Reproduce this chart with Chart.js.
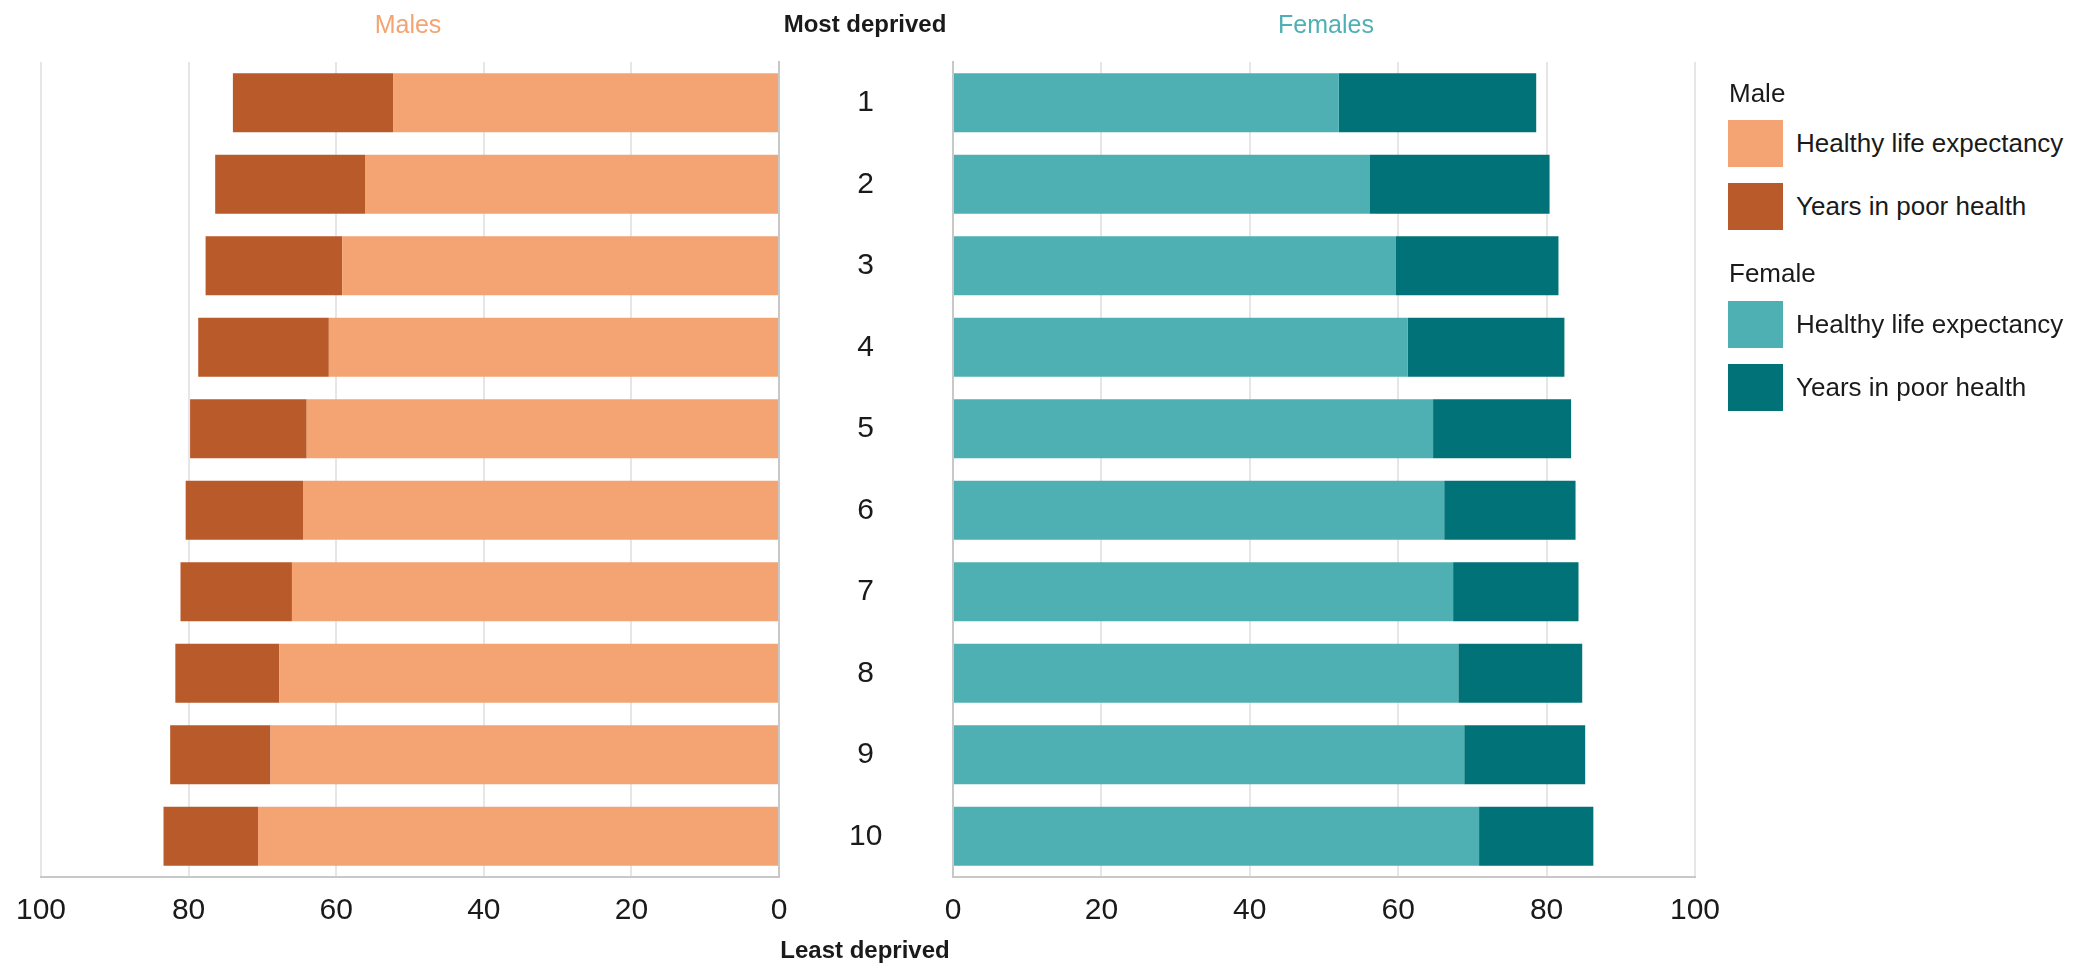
<!DOCTYPE html>
<html>
<head>
<meta charset="utf-8">
<script src="https://cdn.jsdelivr.net/npm/chart.js@4/dist/chart.umd.min.js"></script>
<style>
  body { margin: 0; background: #fff; font-family: 'Liberation Sans', Arial, sans-serif; color: #1a1a1a; }
  #wrap { position: relative; width: 2075px; height: 963px; overflow: hidden; }
  canvas { position: absolute; top: 0; }
  .lbl { position: absolute; white-space: nowrap; transform: translate(-50%, -50%); }
  .legend { position: absolute; left: 1728px; top: 0; }
  .legend .hd { position: absolute; left: 1px; font-size: 26px; transform: translateY(-50%); white-space: nowrap; }
  .legend .sw { position: absolute; left: 0; width: 55px; height: 47px; }
  .legend .tx { position: absolute; left: 68px; font-size: 26px; transform: translateY(-50%); white-space: nowrap; }
</style>
</head>
<body>
<div id="wrap">
  <canvas id="males" width="954" height="963" style="left:0"></canvas>
  <canvas id="females" width="860" height="963" style="left:893px"></canvas>

  <div class="lbl" style="left:408px; top:24px; font-size:25px; color:#f4a373">Males</div>
  <div class="lbl" style="left:865px; top:24px; font-size:24px; font-weight:bold">Most deprived</div>
  <div class="lbl" style="left:1326px; top:24px; font-size:25px; color:#4fb0b3">Females</div>
  <div class="lbl" style="left:865px; top:950px; font-size:24px; font-weight:bold">Least deprived</div>

  <div class="legend">
    <div class="hd" style="top:93px">Male</div>
    <div class="sw" style="top:120px; background:#f4a373"></div>
    <div class="tx" style="top:143px">Healthy life expectancy</div>
    <div class="sw" style="top:183px; background:#b85a29"></div>
    <div class="tx" style="top:206px">Years in poor health</div>
    <div class="hd" style="top:273px">Female</div>
    <div class="sw" style="top:301px; background:#4fb0b3"></div>
    <div class="tx" style="top:324px">Healthy life expectancy</div>
    <div class="sw" style="top:364px; background:#017277"></div>
    <div class="tx" style="top:387px">Years in poor health</div>
  </div>
</div>
<script>
const deciles = ['1', '2', '3', '4', '5', '6', '7', '8', '9', '10'];
const maleHealthy = [52.3, 56.1, 59.2, 61.0, 64.0, 64.5, 66.0, 67.7, 68.9, 70.6];
const malePoor = [21.7, 20.3, 18.5, 17.7, 15.8, 15.9, 15.1, 14.1, 13.6, 12.8];
const femaleHealthy = [52.0, 56.2, 59.7, 61.3, 64.7, 66.2, 67.4, 68.1, 68.9, 70.9];
const femalePoor = [26.6, 24.2, 21.9, 21.1, 18.6, 17.7, 16.9, 16.7, 16.3, 15.4];

Chart.defaults.font.family = "'Liberation Sans', Arial, sans-serif";
Chart.defaults.color = '#1a1a1a';

const gridColor = '#e6e6e6';
const axisColor = '#c8c8c8';

function xScale(reverse) {
    return {
        stacked: true,
        reverse: reverse,
        min: 0,
        max: 100,
        ticks: { stepSize: 20, font: { size: 30 }, padding: 16, maxRotation: 0 },
        grid: { color: gridColor, lineWidth: 2, drawTicks: false },
        border: { color: axisColor, width: 2 },
        afterFit: function (scale) { scale.height = 86; }
    };
}

new Chart(document.getElementById('males'), {
    type: 'bar',
    data: {
        labels: deciles,
        datasets: [
            { label: 'Healthy life expectancy', data: maleHealthy, backgroundColor: '#f4a373' },
            { label: 'Years in poor health', data: malePoor, backgroundColor: '#b85a29' }
        ]
    },
    options: {
        indexAxis: 'y',
        responsive: false,
        animation: false,
        datasets: { bar: { categoryPercentage: 1, barPercentage: 0.724 } },
        layout: { padding: { left: 39, top: 62, right: 0, bottom: 0 } },
        plugins: { legend: { display: false }, tooltip: { enabled: false } },
        scales: {
            x: xScale(true),
            y: {
                stacked: true,
                position: 'right',
                // centre the decile numbers in the gap between the two panels
                ticks: { font: { size: 30 }, crossAlign: 'center', padding: 70 },
                grid: { display: false, drawTicks: false },
                border: { color: axisColor, width: 2 },
                afterFit: function (scale) {
                    scale.width = 175;
                    // tick padding would otherwise push the plot top down
                    scale.paddingTop = 18;
                    scale.paddingBottom = 18;
                }
            }
        }
    }
});

new Chart(document.getElementById('females'), {
    type: 'bar',
    data: {
        labels: deciles,
        datasets: [
            { label: 'Healthy life expectancy', data: femaleHealthy, backgroundColor: '#4fb0b3' },
            { label: 'Years in poor health', data: femalePoor, backgroundColor: '#017277' }
        ]
    },
    options: {
        indexAxis: 'y',
        responsive: false,
        animation: false,
        datasets: { bar: { categoryPercentage: 1, barPercentage: 0.724 } },
        layout: { padding: { left: 60, top: 62, right: 58, bottom: 0 } },
        plugins: { legend: { display: false }, tooltip: { enabled: false } },
        scales: {
            x: xScale(false),
            y: {
                stacked: true,
                ticks: { display: false },
                grid: { display: false, drawTicks: false },
                border: { color: axisColor, width: 2 },
                afterFit: function (scale) { scale.width = 0; }
            }
        }
    }
});
</script>
</body>
</html>
